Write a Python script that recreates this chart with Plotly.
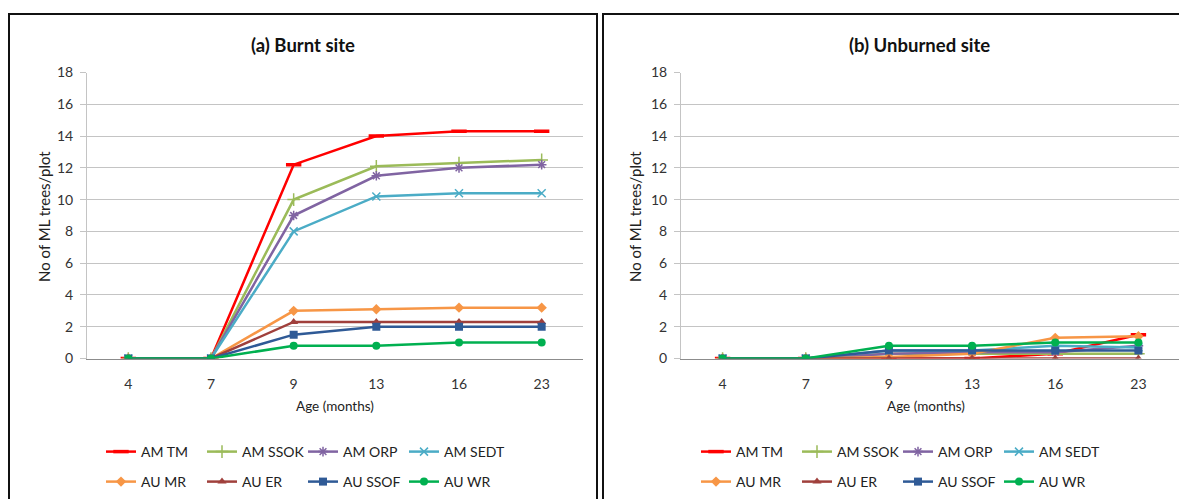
import plotly.graph_objects as go

W, H = 1187, 499

ages = ['4', '7', '9', '13', '16', '23']
names = ['AM TM', 'AM SSOK', 'AM ORP', 'AM SEDT', 'AU MR', 'AU ER', 'AU SSOF', 'AU WR']

# (a) Burnt site
burnt_am_tm = [0, 0, 12.2, 14.0, 14.3, 14.3]
burnt_am_ssok = [0, 0, 10.0, 12.1, 12.3, 12.5]
burnt_am_orp = [0, 0, 9.0, 11.5, 12.0, 12.2]
burnt_am_sedt = [0, 0, 8.0, 10.2, 10.4, 10.4]
burnt_au_mr = [0, 0, 3.0, 3.1, 3.2, 3.2]
burnt_au_er = [0, 0, 2.3, 2.3, 2.3, 2.3]
burnt_au_ssof = [0, 0, 1.5, 2.0, 2.0, 2.0]
burnt_au_wr = [0, 0, 0.8, 0.8, 1.0, 1.0]

# (b) Unburned site
unb_am_tm = [0, 0, 0, 0, 0.3, 1.5]
unb_am_ssok = [0, 0, 0.3, 0.3, 0.3, 0.3]
unb_am_orp = [0, 0, 0.3, 0.4, 0.4, 0.8]
unb_am_sedt = [0, 0, 0.5, 0.5, 0.8, 0.7]
unb_au_mr = [0, 0, 0.1, 0.3, 1.3, 1.4]
unb_au_er = [0, 0, 0, 0, 0, 0]
unb_au_ssof = [0, 0, 0.5, 0.5, 0.5, 0.5]
unb_au_wr = [0, 0, 0.8, 0.8, 1.0, 1.0]

burnt = [burnt_am_tm, burnt_am_ssok, burnt_am_orp, burnt_am_sedt,
         burnt_au_mr, burnt_au_er, burnt_au_ssof, burnt_au_wr]
unburned = [unb_am_tm, unb_am_ssok, unb_am_orp, unb_am_sedt,
            unb_au_mr, unb_au_er, unb_au_ssof, unb_au_wr]

colors = ['#FF0000', '#9BBB59', '#8064A2', '#4BACC6',
          '#F79646', '#A0403C', '#2F5A96', '#00B050']
symbols = ['line-ew', 'cross-thin', 'asterisk', 'x-thin',
           'diamond', 'triangle-up', 'square', 'circle']
msizes = [11, 9, 8, 8, 8, 8, 8, 8]
mline = [3.5, 1.5, 1.5, 1.5, 0, 0, 0, 0]

FONT = 'Lato'

# page offset (body margin); figure margins fixed at zero
OX, OY = 8, 8
PW, PH = W, H


def px_x(p):
    return (p - OX) / PW


def px_y(p):
    return 1 - (p - OY) / PH


fig = go.Figure()

panels = [
    (burnt, 'x', 'y', ('legend', 'legend2')),
    (unburned, 'x2', 'y2', ('legend3', 'legend4')),
]
for data, xa, ya, lgs in panels:
    for i, (nm, vals) in enumerate(zip(names, data)):
        fig.add_trace(go.Scatter(
            x=ages, y=vals, name=nm, mode='lines+markers',
            xaxis=xa, yaxis=ya,
            legend=lgs[0] if i < 4 else lgs[1],
            line=dict(color=colors[i], width=2.5),
            marker=dict(symbol=symbols[i], size=msizes[i], color=colors[i],
                        line=dict(color=colors[i], width=mline[i])),
        ))

y_top, y_bot = 72.5, 358.5
xdoms = [(87, 583), (681, 1180)]

axis_common = dict(
    type='category', range=[-0.5, 5.5], showgrid=False,
    showline=True, linecolor='#8C8C8C', linewidth=1,
    ticks='', tickfont=dict(family=FONT, size=14, color='#333333'),
    ticklabelstandoff=13, fixedrange=True, automargin=False,
)
yaxis_common = dict(
    range=[0, 18], dtick=2, showgrid=True, gridcolor='#C4C4C4', gridwidth=1,
    showline=True, linecolor='#C4C4C4', linewidth=1, zeroline=False,
    ticks='outside', ticklen=6, tickcolor='#C4C4C4',
    tickfont=dict(family=FONT, size=14, color='#333333'),
    ticklabelstandoff=4, fixedrange=True, automargin=False,
)

fig.update_layout(
    template='none',
    width=W, height=H,
    margin=dict(l=0, r=0, t=0, b=0, autoexpand=False),
    paper_bgcolor='white', plot_bgcolor='white',
    xaxis=dict(domain=[px_x(xdoms[0][0]), px_x(xdoms[0][1])], anchor='y', **axis_common),
    yaxis=dict(domain=[px_y(y_bot), px_y(y_top)], anchor='x', **yaxis_common),
    xaxis2=dict(domain=[px_x(xdoms[1][0]), px_x(xdoms[1][1])], anchor='y2', **axis_common),
    yaxis2=dict(domain=[px_y(y_bot), px_y(y_top)], anchor='x2', **yaxis_common),
    showlegend=True,
)

leg_common = dict(orientation='h', xanchor='left', yanchor='middle',
                  entrywidth=56, itemwidth=30, bgcolor='rgba(0,0,0,0)',
                  font=dict(family=FONT, size=14, color='#222222'),
                  tracegroupgap=0, borderwidth=0)
fig.update_layout(
    legend=dict(x=px_x(101), y=px_y(452), **leg_common),
    legend2=dict(x=px_x(101), y=px_y(482), **leg_common),
    legend3=dict(x=px_x(696), y=px_y(452), **leg_common),
    legend4=dict(x=px_x(696), y=px_y(482), **leg_common),
)

# titles and axis titles
ann = []
for cx, title in [(303, '<b>(a) Burnt site</b>'), (919, '<b>(b) Unburned site</b>')]:
    ann.append(dict(text=title, x=px_x(cx), y=px_y(45), xref='paper', yref='paper',
                    showarrow=False, xanchor='center', yanchor='middle',
                    font=dict(family=FONT, size=18.5, color='#111111')))
for xc in [335, 926]:
    ann.append(dict(text='Age (months)', x=px_x(xc), y=px_y(406), xref='paper', yref='paper',
                    showarrow=False, xanchor='center', yanchor='middle',
                    font=dict(family=FONT, size=13.5, color='#222222')))
for yc_x in [44, 635]:
    ann.append(dict(text='No of ML trees/plot', x=px_x(yc_x), y=px_y(217),
                    xref='paper', yref='paper', textangle=-90,
                    showarrow=False, xanchor='center', yanchor='middle',
                    font=dict(family=FONT, size=15, color='#222222')))
fig.update_layout(annotations=ann)

# panel frames
shapes = [
    dict(type='rect', xref='paper', yref='paper', x0=px_x(9), x1=px_x(597),
         y0=px_y(520), y1=px_y(14), line=dict(color='#111111', width=2)),
    dict(type='rect', xref='paper', yref='paper', x0=px_x(603), x1=px_x(1220),
         y0=px_y(520), y1=px_y(14), line=dict(color='#111111', width=2)),
]
fig.update_layout(shapes=shapes)

fig.write_html('out.html')
